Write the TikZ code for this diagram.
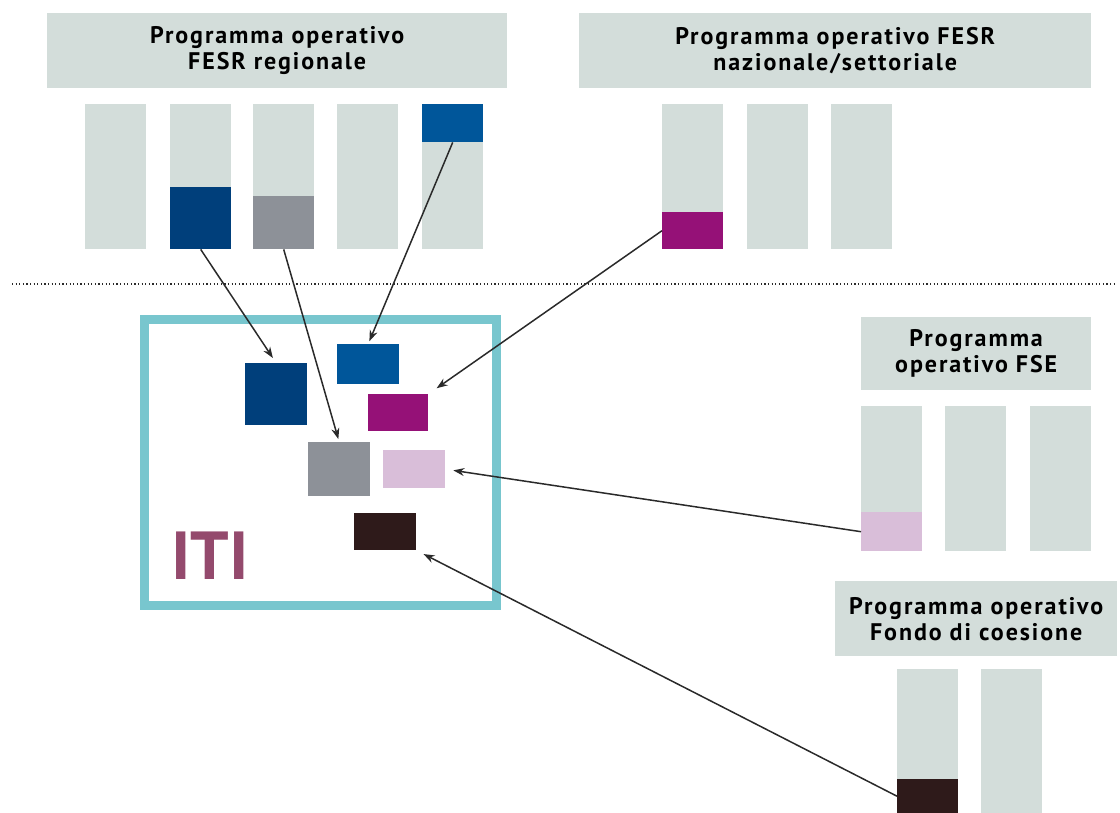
\documentclass[tikz,border=0pt]{standalone}
\usepackage{fontspec}
\setmainfont{PT Sans}
\usepackage{tikz}
\usetikzlibrary{arrows.meta}
\definecolor{pale}{HTML}{D3DDDA}
\definecolor{navy}{HTML}{003F7B}
\definecolor{azure}{HTML}{00569A}
\definecolor{slate}{HTML}{8D9198}
\definecolor{plum}{HTML}{951177}
\definecolor{lilac}{HTML}{D9BED9}
\definecolor{cocoa}{HTML}{2E1A1A}
\definecolor{frame}{HTML}{78C6CE}
\definecolor{itirose}{HTML}{944A6D}
\definecolor{linkgray}{HTML}{2A2A2A}
\newcommand{\hdfont}{\fontsize{24}{26}\selectfont\bfseries\addfontfeature{LetterSpace=8}}

\begin{document}
\begin{tikzpicture}[x=1pt, y=-1pt,
        head/.style={fill=pale, inner sep=0, anchor=north west, align=center, font=\hdfont},
        bar/.style={fill=pale, inner sep=0, anchor=north west, minimum width=\barw, minimum height=145},
        chip/.style={inner sep=0, anchor=north west, minimum width=62},
        link/.style={draw=linkgray, line width=1.5pt, -{Stealth[length=11pt,width=8pt]}}]
        \pgfmathsetmacro{\barw}{61}
        \useasboundingbox (0,0) rectangle (1120,813);
        \node[head, minimum width=460, minimum height=75] (fesrreg) at (47,13) {Programma operativo\\FESR regionale};
        \node[head, minimum width=512, minimum height=75] (fesrnaz) at (579,13) {Programma operativo FESR\\nazionale/settoriale};
        \node[head, minimum width=230, minimum height=73] (fse) at (861,317) {Programma\\operativo FSE};
        \node[head, minimum width=282, minimum height=75] (coes) at (835,581) {Programma operativo\\Fondo di coesione};
        \foreach \x [count=\i] in {85, 170, 253, 337, 422}{
                \node[bar] (reg\i) at (\x,104) {};
            }
        \foreach \x [count=\i] in {662, 747, 831}{
                \node[bar] (naz\i) at (\x,104) {};
            }
        \foreach \x [count=\i] in {861, 945, 1030}{
                \node[bar] (fse\i) at (\x,406) {};
            }
        \foreach \x [count=\i] in {897, 981}{
                \node[bar, minimum height=144] (coes\i) at (\x,669) {};
            }
        \node[chip, fill=navy, minimum width=\barw, minimum height=62, anchor=south west] (srcnavy) at (reg2.south west) {};
        \node[chip, fill=slate, minimum width=\barw, minimum height=53, anchor=south west] (srcslate) at (reg3.south west) {};
        \node[chip, fill=azure, minimum width=\barw, minimum height=38] (srcazure) at (reg5.north west) {};
        \node[chip, fill=plum, minimum width=\barw, minimum height=37, anchor=south west] (srcplum) at (naz1.south west) {};
        \node[chip, fill=lilac, minimum width=\barw, minimum height=39, anchor=south west] (srclilac) at (fse1.south west) {};
        \node[chip, fill=cocoa, minimum width=\barw, minimum height=34, anchor=south west] (srccocoa) at (coes1.south west) {};
        \draw[linkgray, line width=1.3pt, dash pattern=on 1.2pt off 2.4pt] (12,284) -- (1115,284);
        \node[draw=frame, line width=9pt, inner sep=0, outer sep=0, anchor=north west, minimum width=352, minimum height=285] (iti) at (144,320) {};
        \node[inner sep=0, anchor=base west, text=itirose, font=\fontsize{68}{68}\selectfont\bfseries] (itilabel) at (171,579) {ITI};
        \node[chip, fill=navy, minimum height=62] (dstnavy) at (245,363) {};
        \node[chip, fill=azure, minimum height=40] (dstazure) at (337,344) {};
        \node[chip, fill=plum, minimum width=60, minimum height=37] (dstplum) at (368,394) {};
        \node[chip, fill=slate, minimum height=54] (dstslate) at (308,442) {};
        \node[chip, fill=lilac, minimum height=38] (dstlilac) at (383,450) {};
        \node[chip, fill=cocoa, minimum height=37] (dstcocoa) at (354,513) {};
        \draw[link, shorten >=6pt] (srcnavy.south) -- (dstnavy.north);
        \draw[link, shorten >=3pt] (srcslate.south) -- (dstslate.north);
        \draw[link, shorten >=3pt] (srcazure.south) -- (dstazure.north);
        \draw[link, shorten >=10pt] (srcplum.west) -- (dstplum.north east);
        \draw[link, shorten >=8pt] (srclilac.west) -- (dstlilac.east);
        \draw[link, shorten >=8pt] (srccocoa.west) -- (dstcocoa.south east);
    \end{tikzpicture}
\end{document}
